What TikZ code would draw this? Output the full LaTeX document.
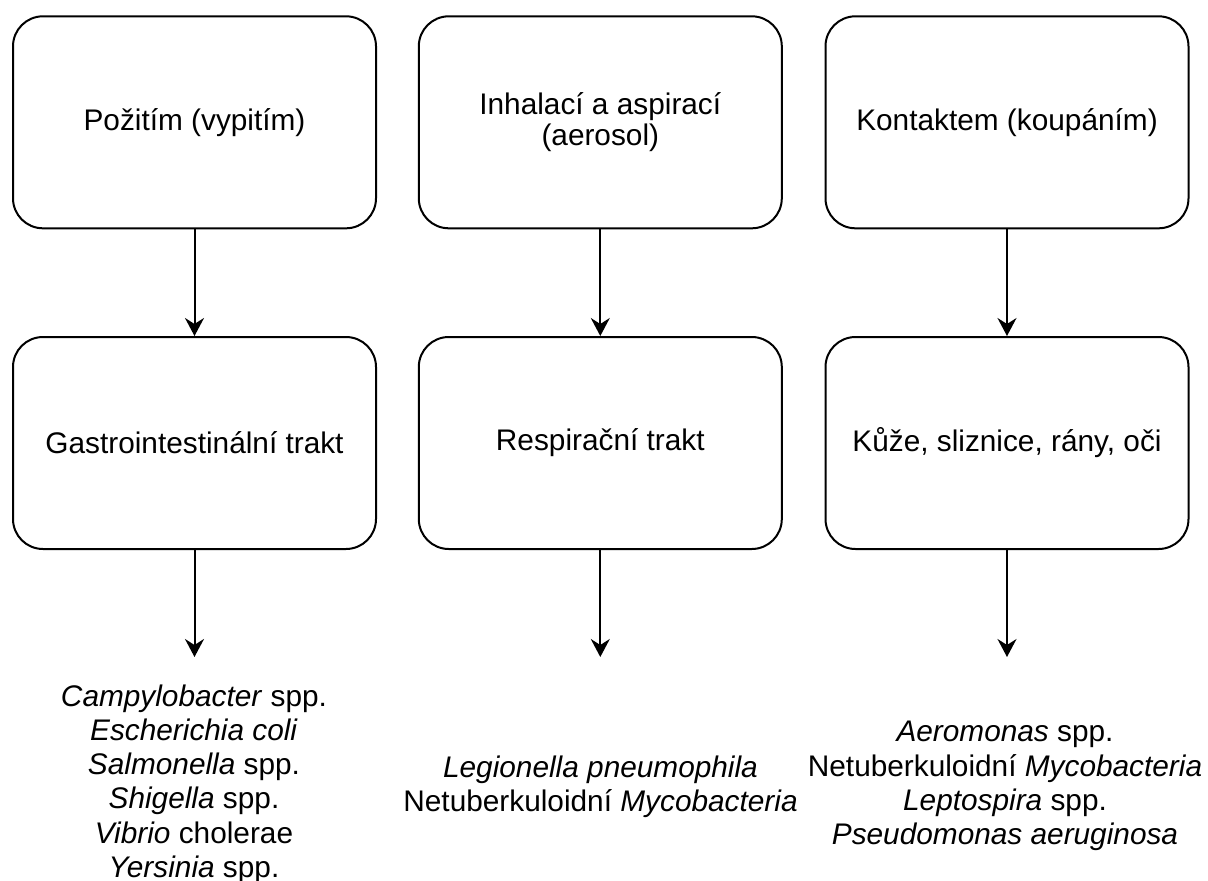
\documentclass[tikz,border=0pt]{standalone}
\usepackage{fontspec}
\setmainfont{Liberation Sans}
\usetikzlibrary{arrows.meta}
\begin{document}
\begin{tikzpicture}[x=1pt,y=-1pt,
  box/.style={draw, line width=2pt, rounded corners=30pt, minimum width=363pt, minimum height=212pt, inner sep=0pt, align=center, font=\fontsize{29.8pt}{31pt}\selectfont},
  lst/.style={align=center, inner sep=0pt, font=\fontsize{29.8pt}{34.2pt}\selectfont},
  arr/.style={line width=2pt, -{Stealth[length=18pt,width=19pt,inset=6pt]}}]
\useasboundingbox (0,0) rectangle (1208,881);
% top row
\node[box] (a1) at (194.5,122.3) {Požitím (vypitím)};
\node[box] (a2) at (600.3,122.3) {Inhalací a aspirací\\(aerosol)};
\node[box] (a3) at (1007,122.3) {Kontaktem (koupáním)};
% second row
\node[box] (b1) at (194.5,443) {Gastrointestinální trakt};
\node[box] (b2) at (600.3,443) {Respirační trakt};
\node[box] (b3) at (1007,443) {Kůže, sliznice, rány, oči};
% arrow ends
\coordinate (e1) at (194.5,657);
\coordinate (e2) at (600.3,657);
\coordinate (e3) at (1007,657);
% lists
\node[lst] (l1) at (194,784) {\textit{Campylobacter} spp.\\\textit{Escherichia coli}\\\textit{Salmonella} spp.\\\textit{Shigella} spp.\\\textit{Vibrio} cholerae\\\textit{Yersinia} spp.};
\node[lst] (l2) at (600.5,787) {\textit{Legionella pneumophila}\\Netuberkuloidní \textit{Mycobacteria}};
\node[lst] (l3) at (1005,786) {\textit{Aeromonas} spp.\\Netuberkuloidní \textit{Mycobacteria}\\\textit{Leptospira} spp.\\\textit{Pseudomonas aeruginosa}};
% connectors
\draw[arr] (a1) -- (b1);
\draw[arr] (a2) -- (b2);
\draw[arr] (a3) -- (b3);
\draw[arr] (b1) -- (e1);
\draw[arr] (b2) -- (e2);
\draw[arr] (b3) -- (e3);
\end{tikzpicture}
\end{document}
